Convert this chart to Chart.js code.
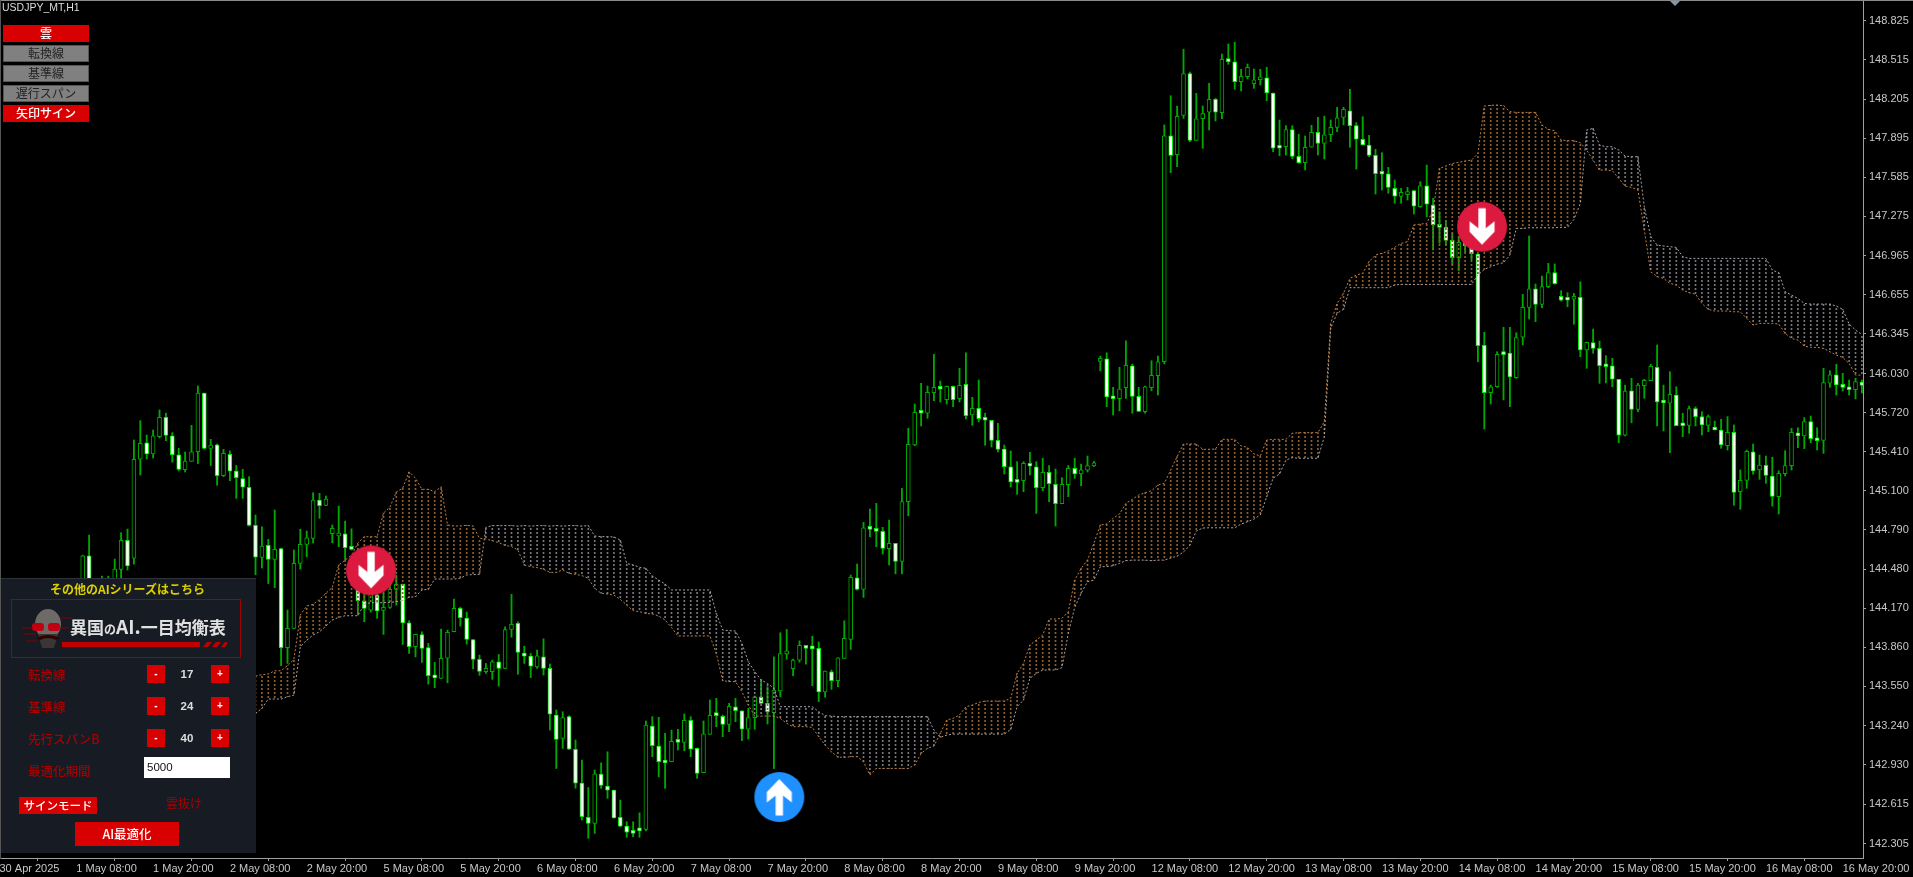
<!DOCTYPE html>
<html lang="ja">
<head>
<meta charset="utf-8">
<title>USDJPY_MT,H1</title>
<script src="https://cdn.jsdelivr.net/npm/chart.js@4"></script>
<style>
html, body { margin: 0; padding: 0; background: #000; width: 1913px; height: 877px; overflow: hidden; }
body, div, span { font-family: "Noto Sans CJK JP", "Noto Sans", sans-serif; }
#salesWrap { position: absolute; left: 0; top: 0; width: 1913px; height: 877px; }
canvas { display: block; }
.abs { position: absolute; white-space: nowrap; }
.topLine { left: 0; top: 0; width: 1913px; height: 1px; background: #8a8a8a; }
.leftLine { left: 0; top: 0; width: 1px; height: 859px; background: #555; }
.shift { left: 1670px; top: 1px; width: 0; height: 0; border-left: 5px solid transparent; border-right: 5px solid transparent; border-top: 5px solid #7f97b2; }
.symbol { left: 2px; top: 1px; font: 10.5px "Liberation Sans", sans-serif; color: #ddd; line-height: 13px; }
.btn { width: 86px; height: 17px; left: 3px; line-height: 16px; text-align: center; font-size: 12px; box-sizing: border-box; }
.btn.on { background: #d80000; color: #fff; font-weight: 500; }
.btn.off { background: #808080; color: #222; border: 1px solid #555; line-height: 14px; }
#panel { left: 1px; top: 578px; width: 255px; height: 275px; background: #161b24; border-top: 1px solid #2e333c; box-sizing: border-box; }
.head { left: 0; width: 255px; top: 581px; text-align: center; font-size: 12px; line-height: 16px; color: #dcd000; font-weight: 700; }
#logo { left: 11px; top: 599px; width: 230px; height: 59px; border: 1px solid #a00000; box-sizing: border-box; }
.logoText { left: 70px; top: 612px; font-size: 17px; line-height: 28px; color: #e0e0e0; font-weight: 700; }
.logoText .no { font-size: 12px; }
.logoText .ai { font-size: 19px; }
.lbl { left: 28px; color: #a80000; font-size: 12.5px; line-height: 18px; font-weight: 500; }
.mini { width: 18px; height: 18px; background: #d80000; color: #fff; text-align: center; font: 700 10px/17px "Liberation Sans", sans-serif; }
.num { left: 172px; width: 30px; text-align: center; color: #ddd; font: 700 11.5px/18px "Liberation Sans", sans-serif; }
.input { left: 144px; top: 757px; width: 86px; height: 21px; background: #fff; color: #111; font: 11.5px/21px "Liberation Sans", sans-serif; padding-left: 3px; box-sizing: border-box; }
.mode { left: 19px; top: 797px; width: 78px; height: 17px; background: #d80000; color: #fff; text-align: center; font-size: 11.5px; line-height: 16px; font-weight: 500; }
.modeVal { left: 160px; width: 48px; top: 794px; text-align: center; color: #a80000; font-size: 12px; line-height: 18px; }
.aiBtn { left: 75px; top: 822px; width: 104px; height: 24px; background: #d80000; color: #fff; text-align: center; font-size: 12.5px; line-height: 24px; font-weight: 500; }
</style>
</head>
<body>
<div id="salesWrap"><canvas id="priceChart" width="1913" height="877"></canvas></div>
<div class="abs topLine"></div>
<div class="abs leftLine"></div>
<div class="abs shift"></div>
<div class="abs symbol">USDJPY_MT,H1</div>
<div class="abs btn on" style="top:25px">雲</div>
<div class="abs btn off" style="top:45px">転換線</div>
<div class="abs btn off" style="top:65px">基準線</div>
<div class="abs btn off" style="top:85px">遅行スパン</div>
<div class="abs btn on" style="top:105px">矢印サイン</div>

<div class="abs" id="panel"></div>
<div class="abs head">その他のAIシリーズはこちら</div>
<div class="abs" id="logo"></div>
<svg class="abs" style="left:22px;top:604px" width="205" height="50" viewBox="0 0 205 50">
  <ellipse cx="26" cy="20" rx="13" ry="15" fill="#6e6a68"/>
  <path d="M16 30 L36 30 L32 44 L20 44 Z" fill="#3a3636"/>
  <rect x="10" y="19" width="12" height="8" rx="3" fill="#c00010"/>
  <rect x="26" y="19" width="12" height="8" rx="3" fill="#c00010"/>
  <path d="M14 34 Q26 28 38 34 L34 36 Q26 32 18 36 Z" fill="#300"/>
  <path d="M0 24 H12 M2 30 H14 M4 37 H16 M38 14 H50 M38 24 H46" stroke="#800" stroke-width="1"/>
  <rect x="40" y="38" width="138" height="5" fill="#c00000"/>
  <path d="M181 43 l4 -5 h5 l-4 5 Z M190 43 l4 -5 h5 l-4 5 Z M199 43 l4 -5 h2 v2 l-2 3 Z" fill="#c00000"/>
</svg>
<div class="abs logoText">異国<span class="no">の</span><span class="ai">AI.</span>一目均衡表</div>

<div class="abs lbl" style="top:666px">転換線</div>
<div class="abs mini" style="left:147px;top:665px">-</div>
<div class="abs num" style="top:665px">17</div>
<div class="abs mini" style="left:211px;top:665px">+</div>
<div class="abs lbl" style="top:698px">基準線</div>
<div class="abs mini" style="left:147px;top:697px">-</div>
<div class="abs num" style="top:697px">24</div>
<div class="abs mini" style="left:211px;top:697px">+</div>
<div class="abs lbl" style="top:730px">先行スパンB</div>
<div class="abs mini" style="left:147px;top:729px">-</div>
<div class="abs num" style="top:729px">40</div>
<div class="abs mini" style="left:211px;top:729px">+</div>
<div class="abs lbl" style="top:762px">最適化期間</div>
<div class="abs input">5000</div>
<div class="abs mode">サインモード</div>
<div class="abs modeVal">雲抜け</div>
<div class="abs aiBtn">AI最適化</div>

<script>
// 時間足のラベル (12本ごと)
const tickLabels = ["30 Apr 2025","1 May 08:00","1 May 20:00","2 May 08:00","2 May 20:00","5 May 08:00","5 May 20:00",
  "6 May 08:00","6 May 20:00","7 May 08:00","7 May 20:00","8 May 08:00","8 May 20:00","9 May 08:00","9 May 20:00",
  "12 May 08:00","12 May 20:00","13 May 08:00","13 May 20:00","14 May 08:00","14 May 20:00","15 May 08:00","15 May 20:00",
  "16 May 08:00","16 May 20:00"];
const priceTicks = [142.305,142.615,142.930,143.240,143.550,143.860,144.170,144.480,144.790,145.100,145.410,
  145.720,146.030,146.345,146.655,146.965,147.275,147.585,147.895,148.205,148.515,148.825];

// ローソク足 (firstBar 番目の足から)
const firstBar = 13;
const opens = [144.313,144.585,144.2,144.2,144.36,144.3,144.477,144.707,144.567,145.35,
  145.481,145.392,145.529,145.683,145.535,145.386,145.267,145.333,145.41,145.875,
  145.437,145.465,145.22,145.39,145.256,145.197,145.128,144.826,144.573,144.668,
  144.557,144.642,143.856,144.01,144.525,144.676,144.723,145.027,144.985,144.76,
  144.742,144.76,144.652,144.551,144.228,144.155,144.274,144.152,144.176,144.319,
  144.361,144.054,143.864,143.96,143.857,143.634,143.614,143.774,143.983,144.168,
  144.091,143.922,143.764,143.666,143.666,143.745,143.693,144.001,144.049,143.811,
  143.79,143.705,143.784,143.693,143.323,143.138,143.31,143.052,142.783,142.512,
  142.465,142.855,142.76,142.728,142.512,142.443,142.403,142.416,142.416,143.236,
  143.077,142.959,142.953,143.117,143.106,143.281,143.059,142.866,143.17,143.323,
  143.313,143.249,143.389,143.357,143.212,143.302,143.468,143.416,143.341,143.515,
  143.808,143.69,143.758,143.875,143.853,143.851,143.507,143.666,143.595,143.772,
  143.922,144.41,144.319,144.807,144.799,144.779,144.641,144.684,144.541,145.014,
  145.463,145.722,145.715,145.878,145.917,145.822,145.928,145.83,145.944,145.701,
  145.754,145.667,145.659,145.5,145.431,145.291,145.183,145.18,145.318,145.291,
  145.125,145.247,145.151,144.998,145.148,145.278,145.233,145.263,145.297,146.126,
  146.147,145.841,145.83,145.917,146.091,145.849,145.727,145.917,146.012,146.123,
  147.914,147.764,148.076,148.406,147.878,148.049,148.1,148.203,148.097,148.52,
  148.499,148.342,148.382,148.327,148.358,148.374,148.253,147.83,147.827,147.962,
  147.751,147.7,147.823,147.941,147.854,147.922,147.981,148.06,148.112,147.994,
  147.886,147.841,147.759,147.617,147.613,147.497,147.434,147.447,147.479,147.352,
  147.518,147.365,147.207,147.188,147.085,146.947,147.127,147.035,146.977,146.253,
  145.878,145.925,146.192,146.192,145.996,146.317,146.554,146.7,146.578,146.718,
  146.829,146.642,146.62,146.618,146.634,146.216,146.274,146.229,146.091,146.091,
  145.984,145.542,145.893,145.746,145.933,145.973,146.079,145.804,145.794,145.859,
  145.624,145.619,145.751,145.688,145.619,145.59,145.582,145.457,145.563,145.093,
  145.183,145.41,145.265,145.302,145.217,145.053,145.236,145.3,145.56,145.535,
  145.648,145.513,145.5,145.954,146.02,145.939,145.92,145.901,145.962];
const highs = [144.59,144.749,144.4,144.424,144.424,144.559,144.768,144.797,145.503,145.656,
  145.542,145.582,145.741,145.715,145.561,145.437,145.407,145.619,145.931,145.875,
  145.508,145.471,145.429,145.416,145.301,145.27,145.212,144.908,144.815,144.715,
  144.948,144.646,144.155,144.631,144.795,144.781,145.085,145.08,145.059,144.829,
  144.979,144.86,144.799,144.639,144.289,144.353,144.313,144.289,144.367,144.432,
  144.361,144.07,143.962,143.983,143.891,143.74,144.004,143.996,144.242,144.178,
  144.139,143.922,143.798,143.732,143.758,143.803,144.022,144.279,144.062,143.869,
  143.811,143.838,143.927,143.727,143.363,143.349,143.318,143.125,142.966,142.749,
  142.887,142.944,143.032,142.728,142.649,142.477,142.477,142.548,143.276,143.31,
  143.305,143.178,143.204,143.21,143.331,143.31,143.061,143.276,143.442,143.456,
  143.323,143.416,143.456,143.357,143.376,143.474,143.606,143.547,143.784,143.975,
  144.001,143.766,143.911,143.875,143.948,143.902,143.672,143.68,143.776,144.07,
  144.432,144.52,144.85,144.956,145.001,144.81,144.868,144.684,145.119,145.596,
  145.788,145.952,145.931,146.181,145.97,145.931,145.931,146.071,146.194,145.841,
  145.978,145.715,145.659,145.635,145.463,145.416,145.331,145.331,145.405,145.331,
  145.358,145.3,145.273,145.204,145.3,145.358,145.312,145.376,145.334,146.168,
  146.194,145.92,146.079,146.289,146.105,145.92,145.931,146.131,146.168,148.0,
  148.231,148.149,148.6,148.419,148.25,148.15,148.33,148.211,148.562,148.641,
  148.655,148.441,148.483,148.443,148.441,148.457,148.253,148.039,147.994,147.994,
  147.926,147.912,147.997,148.06,148.07,148.039,148.139,148.139,148.282,148.018,
  148.065,147.917,147.807,147.78,147.664,147.563,147.497,147.505,147.479,147.55,
  147.682,147.418,147.312,147.241,147.142,147.114,147.207,147.088,146.977,146.356,
  145.938,146.202,146.396,146.396,146.353,146.657,147.12,146.739,146.802,146.903,
  146.898,146.686,146.67,146.665,146.757,146.277,146.382,146.287,146.171,146.15,
  145.984,145.938,145.992,145.952,145.984,146.103,146.256,145.938,146.044,145.925,
  145.715,145.772,145.766,145.727,145.701,145.653,145.667,145.688,145.622,145.265,
  145.423,145.471,145.384,145.376,145.366,145.259,145.418,145.595,145.6,145.68,
  145.693,145.6,146.071,146.052,146.103,146.031,145.978,145.992,145.978];
const lows = [144.25,144.139,144.1,144.1,144.2,144.2,144.394,144.472,144.519,145.225,
  145.352,145.36,145.519,145.497,145.327,145.259,145.249,145.333,145.316,145.431,
  145.3,145.144,145.212,145.18,145.04,145.04,144.821,144.435,144.488,144.365,
  144.333,143.715,143.732,144.008,144.48,144.577,144.686,144.882,144.982,144.689,
  144.657,144.551,144.631,144.115,144.062,144.139,144.089,143.962,144.168,144.194,
  143.883,143.811,143.784,143.74,143.568,143.54,143.613,143.579,143.983,144.028,
  143.885,143.69,143.638,143.653,143.606,143.553,143.691,143.94,143.646,143.732,
  143.62,143.693,143.64,143.204,142.899,143.059,143.05,142.743,142.49,142.346,
  142.385,142.742,142.663,142.506,142.437,142.354,142.359,142.354,142.405,142.993,
  142.833,142.742,142.953,143.046,143.04,142.993,142.821,142.866,143.17,143.23,
  143.151,143.191,143.27,143.12,143.133,143.21,143.416,143.252,142.899,143.468,
  143.766,143.634,143.742,143.726,143.556,143.429,143.464,143.527,143.547,143.772,
  143.843,144.313,144.255,144.736,144.657,144.599,144.512,144.442,144.442,144.902,
  145.457,145.614,145.675,145.814,145.804,145.788,145.767,145.804,145.669,145.619,
  145.646,145.461,145.447,145.408,145.233,145.13,145.072,145.093,145.225,144.921,
  145.101,145.014,144.821,144.998,145.053,145.199,145.14,145.249,145.292,146.051,
  145.767,145.701,145.733,145.833,145.715,145.73,145.715,145.893,145.859,146.105,
  147.621,147.669,148.052,147.867,147.878,147.815,147.96,148.031,148.049,148.48,
  148.282,148.269,148.364,148.29,148.316,148.192,147.788,147.756,147.761,147.732,
  147.696,147.643,147.823,147.761,147.73,147.867,147.946,148.0,147.823,147.65,
  147.841,147.748,147.452,147.484,147.458,147.379,147.379,147.405,147.294,147.347,
  147.272,147.009,147.062,147.048,146.89,146.845,146.992,146.93,146.123,145.59,
  145.788,145.92,145.82,145.767,145.991,146.256,146.462,146.44,146.551,146.71,
  146.737,146.604,146.559,146.42,146.163,146.071,146.19,145.952,145.955,145.925,
  145.481,145.535,145.639,145.727,145.833,145.973,145.614,145.574,145.402,145.616,
  145.529,145.556,145.614,145.542,145.569,145.582,145.437,145.423,144.985,144.953,
  145.12,145.231,145.191,145.16,144.979,144.916,145.217,145.265,145.442,145.434,
  145.481,145.423,145.397,145.92,145.859,145.891,145.859,145.828,145.875];
const closes = [144.585,144.234,144.35,144.36,144.28,144.48,144.707,144.504,145.35,145.477,
  145.392,145.535,145.683,145.54,145.386,145.27,145.336,145.41,145.875,145.437,
  145.463,145.22,145.398,145.256,145.205,145.128,144.826,144.575,144.662,144.557,
  144.636,143.857,144.01,144.525,144.676,144.728,145.027,144.982,145.035,144.803,
  144.76,144.649,144.636,144.228,144.168,144.313,144.149,144.176,144.319,144.358,
  144.054,143.864,143.962,143.851,143.635,143.618,143.772,143.978,144.168,144.094,
  143.922,143.764,143.669,143.693,143.745,143.693,144.001,144.041,143.819,143.79,
  143.71,143.792,143.693,143.329,143.13,143.302,143.052,142.783,142.517,142.465,
  142.857,142.765,142.728,142.508,142.443,142.395,142.385,142.405,143.244,143.08,
  142.953,142.943,143.114,143.106,143.281,143.053,142.861,143.175,143.321,143.318,
  143.249,143.392,143.357,143.212,143.302,143.468,143.416,143.349,143.521,143.811,
  143.819,143.758,143.875,143.851,143.848,143.507,143.672,143.595,143.776,143.93,
  144.414,144.319,144.807,144.795,144.779,144.644,144.684,144.541,145.015,145.468,
  145.722,145.715,145.881,145.92,145.905,145.928,145.822,145.936,145.695,145.754,
  145.672,145.659,145.5,145.429,145.291,145.17,145.167,145.318,145.295,145.125,
  145.247,145.156,144.998,145.151,145.278,145.233,145.267,145.3,145.321,146.15,
  145.844,145.83,145.907,146.094,145.849,145.73,145.925,146.015,146.123,147.914,
  147.759,148.068,148.406,147.878,148.049,148.089,148.203,148.1,148.52,148.501,
  148.342,148.385,148.457,148.358,148.366,148.253,147.815,147.815,147.962,147.751,
  147.7,147.823,147.941,147.854,147.922,147.981,148.057,148.123,147.994,147.886,
  147.841,147.759,147.613,147.609,147.505,147.436,147.466,147.471,147.355,147.518,
  147.371,147.207,147.188,147.085,146.947,147.069,147.04,146.977,146.25,145.878,
  145.925,146.182,146.179,146.002,146.314,146.554,146.7,146.578,146.718,146.829,
  146.742,146.61,146.61,146.634,146.216,146.277,146.229,146.091,146.083,145.984,
  145.542,145.891,145.746,145.938,145.976,146.087,145.804,145.796,145.865,145.616,
  145.616,145.751,145.688,145.622,145.688,145.582,145.463,145.563,145.088,145.183,
  145.413,145.257,145.304,145.223,145.056,145.239,145.3,145.563,145.536,145.648,
  145.513,145.497,145.957,146.02,145.939,145.92,145.901,145.965,145.936];

// 一目均衡表の雲 (cloudStart 番目の足から)
const cloudStart = 40;
const spanA = [143.632,143.643,143.648,143.674,143.674,143.714,143.764,144.116,144.187,144.2,
  144.24,144.287,144.335,144.512,144.551,144.591,144.686,144.736,144.736,144.736,
  144.924,144.971,145.09,145.122,145.251,145.2,145.112,145.112,145.093,145.133,
  144.829,144.821,144.821,144.827,144.821,144.724,144.718,144.705,144.689,144.668,
  144.658,144.631,144.512,144.499,144.491,144.478,144.454,144.454,144.473,144.446,
  144.438,144.428,144.407,144.327,144.288,144.282,144.274,144.24,144.195,144.15,
  144.142,144.129,144.124,144.108,144.076,144.016,143.95,143.95,143.95,143.95,
  143.95,143.95,143.812,143.595,143.588,143.588,143.508,143.403,143.315,143.315,
  143.315,143.315,143.297,143.257,143.231,143.231,143.231,143.225,143.152,143.086,
  143.03,142.99,142.987,142.993,142.993,142.953,142.847,142.9,142.9,142.9,
  142.9,142.9,142.9,142.927,143.019,143.059,143.077,143.178,143.283,143.297,
  143.323,143.389,143.402,143.423,143.434,143.434,143.434,143.434,143.455,143.653,
  143.732,143.878,143.917,143.957,144.084,144.084,144.089,144.142,144.393,144.485,
  144.551,144.684,144.829,144.837,144.882,144.916,145.001,145.033,145.067,145.085,
  145.101,145.146,145.159,145.265,145.371,145.471,145.471,145.471,145.429,145.429,
  145.431,145.508,145.508,145.508,145.455,145.445,145.392,145.376,145.503,145.508,
  145.508,145.508,145.556,145.561,145.561,145.561,145.561,145.648,146.427,146.586,
  146.665,146.784,146.81,146.824,146.916,146.969,146.982,147.001,147.03,147.061,
  147.074,147.206,147.214,147.219,147.325,147.655,147.674,147.695,147.703,147.714,
  147.721,147.774,148.149,148.155,148.157,148.152,148.105,148.099,148.099,148.099,
  148.099,147.999,147.965,147.954,147.88,147.875,147.875,147.859,147.801,147.721,
  147.642,147.642,147.637,147.576,147.515,147.505,147.484,147.167,146.836,146.797,
  146.784,146.744,146.731,146.691,146.67,146.659,146.585,146.538,146.525,146.525,
  146.525,146.519,146.519,146.466,146.414,146.427,146.427,146.427,146.422,146.348,
  146.308,146.295,146.247,146.237,146.237,146.229,146.202,146.176,146.157,146.11,146.017,146.017];
const spanB = [143.336,143.376,143.45,143.45,143.45,143.468,143.481,143.864,143.917,143.957,
  143.983,144.028,144.076,144.097,144.11,144.11,144.11,144.203,144.213,144.213,
  144.213,144.216,144.221,144.234,144.256,144.261,144.314,144.319,144.401,144.401,
  144.401,144.401,144.407,144.433,144.436,144.438,144.811,144.824,144.824,144.824,
  144.824,144.82,144.824,144.82,144.824,144.824,144.82,144.824,144.82,144.824,
  144.824,144.82,144.824,144.742,144.737,144.737,144.734,144.71,144.525,144.512,
  144.494,144.486,144.425,144.393,144.362,144.314,144.314,144.314,144.314,144.314,
  144.314,144.314,144.129,143.997,143.992,143.989,143.891,143.746,143.667,143.601,
  143.574,143.535,143.389,143.389,143.389,143.389,143.389,143.389,143.35,143.318,
  143.315,143.31,143.31,143.31,143.31,143.31,143.31,143.31,143.31,143.31,
  143.31,143.31,143.31,143.31,143.31,143.31,143.204,143.146,143.164,143.172,
  143.172,143.172,143.172,143.172,143.172,143.172,143.172,143.172,143.209,143.389,
  143.442,143.614,143.653,143.68,143.68,143.68,143.698,143.97,144.176,144.287,
  144.38,144.393,144.499,144.499,144.507,144.525,144.546,144.551,144.551,144.551,
  144.546,144.551,144.551,144.567,144.583,144.615,144.67,144.781,144.805,144.807,
  144.807,144.807,144.807,144.807,144.837,144.855,144.876,144.908,145.053,145.201,
  145.233,145.344,145.363,145.358,145.358,145.358,145.358,145.529,146.388,146.507,
  146.538,146.71,146.71,146.71,146.71,146.71,146.71,146.71,146.731,146.736,
  146.736,146.736,146.736,146.736,146.736,146.736,146.736,146.736,146.736,146.736,
  146.736,146.81,146.855,146.876,146.897,146.908,146.968,147.18,147.18,147.185,
  147.185,147.185,147.185,147.185,147.188,147.188,147.251,147.378,147.959,147.972,
  147.84,147.827,147.827,147.801,147.753,147.748,147.748,147.352,147.114,147.048,
  147.04,147.035,147.029,146.955,146.942,146.942,146.942,146.942,146.942,146.942,
  146.942,146.942,146.942,146.942,146.942,146.942,146.942,146.85,146.828,146.678,
  146.651,146.625,146.585,146.58,146.58,146.58,146.58,146.564,146.538,146.422,146.374,146.34];

// 矢印サイン
const sellBars = [58.05, 231.64];
const sellPrices = [144.47, 147.193];
const buyBars = [121.84];
const buyPrices = [142.673];

const GREEN_BULL = "#00a800";
const GREEN_BEAR = "#00f000";
const CLOUD_UP = "#c08040";
const CLOUD_DOWN = "#a8a2ac";

// 雲の点線パターン (縦線は境界線より暗く)
function dotPattern(color) {
  const tile = document.createElement("canvas");
  tile.width = 2;
  tile.height = 4;
  const c = tile.getContext("2d");
  c.fillStyle = color;
  c.fillRect(0, 0, 2, 2);
  return document.createElement("canvas").getContext("2d").createPattern(tile, "repeat");
}

// 丸い矢印のアイコン
function arrowIcon(color, up) {
  const icon = document.createElement("canvas");
  icon.width = 52;
  icon.height = 52;
  const c = icon.getContext("2d");
  c.translate(26, 26);
  c.fillStyle = color;
  c.beginPath();
  c.arc(0, 0, 25, 0, Math.PI * 2);
  c.fill();
  if (up) c.scale(1, -1);
  c.fillStyle = "#fff";
  c.beginPath();
  const shape = [[-3.7,-18.5],[3.7,-18.5],[3.7,1.5],[12.5,-5.5],[12.5,5],[0,18],[-12.5,5],[-12.5,-5.5],[-3.7,1.5]];
  shape.forEach((p, i) => (i ? c.lineTo(p[0], p[1]) : c.moveTo(p[0], p[1])));
  c.closePath();
  c.fill();
  return icon;
}

const upDots = dotPattern("#8f5f30");
const downDots = dotPattern("#79757c");

const wickData = highs.map((h, i) => ({ x: firstBar + i, y: [lows[i], h] }));
const bodyData = opens.map((o, i) => ({ x: firstBar + i, y: [o, closes[i]] }));
const cloudData = spanA.map((a, i) => ({ x: cloudStart + i, y: [a, spanB[i]] }));
const lineA = spanA.map((a, i) => ({ x: cloudStart + i, y: a }));
const lineB = spanB.map((b, i) => ({ x: cloudStart + i, y: b }));

const isBull = (i) => closes[i] >= opens[i];

const chartOptions = {
  type: "bar",
  data: {
    datasets: [
      {
        type: "scatter",
        data: sellBars.map((b, i) => ({ x: b, y: sellPrices[i] })),
        pointStyle: arrowIcon("#dc1a40", false),
        pointRadius: 25,
        order: 1,
      },
      {
        type: "scatter",
        data: buyBars.map((b, i) => ({ x: b, y: buyPrices[i] })),
        pointStyle: arrowIcon("#1e90ff", true),
        pointRadius: 25,
        order: 1,
      },
      {
        type: "line",
        data: lineA,
        borderColor: CLOUD_UP,
        borderWidth: 1,
        borderDash: [2, 2],
        pointRadius: 0,
        tension: 0,
        order: 2,
      },
      {
        type: "line",
        data: lineB,
        borderColor: CLOUD_DOWN,
        borderWidth: 1,
        borderDash: [2, 2],
        pointRadius: 0,
        tension: 0,
        order: 2,
      },
      {
        data: cloudData,
        backgroundColor: (ctx) => (spanA[ctx.dataIndex] >= spanB[ctx.dataIndex] ? upDots : downDots),
        barThickness: 1,
        grouped: false,
        order: 3,
      },
      {
        data: bodyData,
        backgroundColor: (ctx) => (isBull(ctx.dataIndex) ? "#000" : "#fff"),
        borderColor: (ctx) => (isBull(ctx.dataIndex) ? GREEN_BULL : GREEN_BEAR),
        borderWidth: 1,
        borderSkipped: false,
        barThickness: 4,
        minBarLength: 3,
        grouped: false,
        order: 4,
      },
      {
        data: wickData,
        backgroundColor: GREEN_BULL,
        barThickness: 1.2,
        grouped: false,
        order: 5,
      },
    ],
  },
  options: {
    responsive: false,
    devicePixelRatio: 1,
    animation: false,
    layout: { autoPadding: false, padding: { left: 1, top: 1, right: 0, bottom: 0 } },
    plugins: { legend: { display: false }, tooltip: { enabled: false } },
    scales: {
      x: {
        type: "linear",
        offset: false,
        min: 0.234,
        max: 291.17,
        grid: { drawOnChartArea: false, color: "#a0a0a0", tickLength: 3 },
        border: { color: "#a0a0a0", width: 1 },
        afterBuildTicks: (scale) => {
          scale.ticks = tickLabels.map((l, i) => ({ value: i * 12 }));
        },
        afterFit: (scale) => {
          scale.height = 19;
          scale.paddingLeft = 0;
          scale.paddingRight = 0;
        },
        ticks: {
          autoSkip: false,
          maxRotation: 0,
          align: "start",
          padding: 1,
          color: "#c8c8c8",
          font: { family: "Liberation Sans", size: 11 },
          callback: (value) => tickLabels[value / 12],
        },
      },
      y: {
        position: "right",
        min: 142.19,
        max: 148.982,
        grid: { drawOnChartArea: false, color: "#a0a0a0", tickLength: 3 },
        border: { color: "#a0a0a0", width: 1 },
        afterBuildTicks: (scale) => {
          scale.ticks = priceTicks.map((v) => ({ value: v }));
        },
        afterFit: (scale) => {
          scale.width = 50;
          scale.paddingTop = 0;
          scale.paddingBottom = 0;
        },
        ticks: {
          autoSkip: false,
          padding: 3,
          color: "#c8c8c8",
          font: { family: "Liberation Sans", size: 11 },
          callback: (value) => value.toFixed(3),
        },
      },
    },
  },
};

new Chart(document.getElementById("priceChart"), chartOptions);
</script>
</body>
</html>
